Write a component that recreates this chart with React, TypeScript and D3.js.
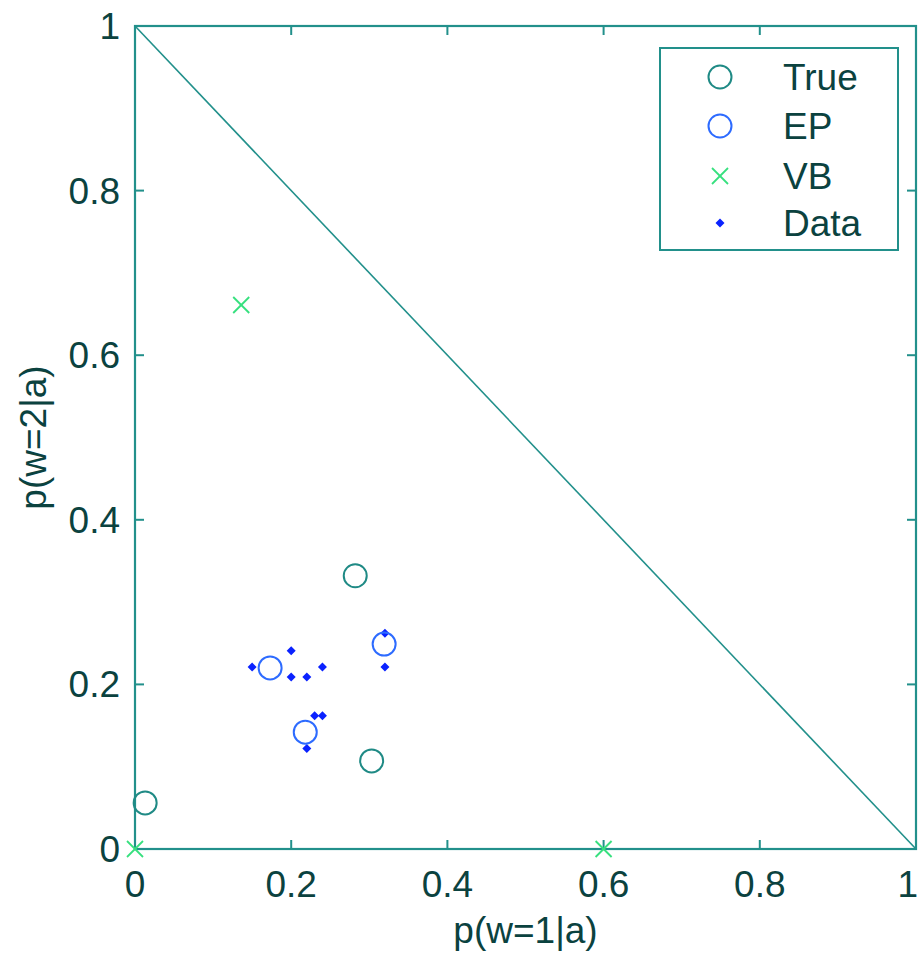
import React from "react";
import * as d3 from "d3";

const trueX = [0.013, 0.282, 0.303];
const trueY = [0.056, 0.332, 0.107];
const epX = [0.173, 0.319, 0.218];
const epY = [0.22, 0.249, 0.142];
const vbX = [0, 0.136, 0.6];
const vbY = [0, 0.661, 0];
const dataX = [0.15, 0.2, 0.2, 0.22, 0.24, 0.32, 0.32, 0.23, 0.24, 0.22];
const dataY = [0.221, 0.241, 0.209, 0.209, 0.221, 0.262, 0.221, 0.162, 0.162, 0.122];
const ticks = [0, 0.2, 0.4, 0.6, 0.8, 1];
const tickLabels = ["0", "0.2", "0.4", "0.6", "0.8", "1"];
const legendLabels = ["True", "EP", "VB", "Data"];

const W = 919, H = 961;
const L = 135, R = 916, T = 26, B = 849;
const AX = "#22908b";
const TXT = "#0b423f";
const TRUEC = "#1f8a85";
const EPC = "#2d6bff";
const VBC = "#36e07e";
const DATAC = "#0a22ff";
const FONT = "Liberation Sans, Arial, sans-serif";

const x = d3.scaleLinear().domain([0, 1]).range([L, R]);
const y = d3.scaleLinear().domain([0, 1]).range([B, T]);

function Cross({ cx, cy, s = 8 }: { cx: number; cy: number; s?: number }) {
  return (
    <g stroke={VBC} strokeWidth={1.8}>
      <line x1={cx - s} y1={cy - s} x2={cx + s} y2={cy + s} />
      <line x1={cx - s} y1={cy + s} x2={cx + s} y2={cy - s} />
    </g>
  );
}

function Diamond({ cx, cy, s = 4.5 }: { cx: number; cy: number; s?: number }) {
  return <path d={`M${cx},${cy - s}L${cx + s},${cy}L${cx},${cy + s}L${cx - s},${cy}Z`} fill={DATAC} />;
}

export default function App() {
  const tick = 9;
  const legendX = 660, legendY = 48, legendW = 238, legendH = 202;
  const rowY = [77, 126, 176, 223];
  return (
    <svg width={W} height={H} style={{ position: "fixed", left: 0, top: 0, background: "#fff" }} fontFamily={FONT}>
      <rect x={0} y={0} width={W} height={H} fill="#fff" />
      <line x1={x(0)} y1={y(1)} x2={x(1)} y2={y(0)} stroke={AX} strokeWidth={1.6} />
      <rect x={L} y={T} width={R - L} height={B - T} fill="none" stroke={AX} strokeWidth={2.2} />
      {ticks.map((t, i) => {
        const last = i === ticks.length - 1;
        return (
          <g key={"t" + i}>
            <line x1={x(t)} y1={B} x2={x(t)} y2={B - tick} stroke={AX} strokeWidth={2} />
            <line x1={x(t)} y1={T} x2={x(t)} y2={T + tick} stroke={AX} strokeWidth={2} />
            <line x1={L} y1={y(t)} x2={L + tick} y2={y(t)} stroke={AX} strokeWidth={2} />
            <line x1={R} y1={y(t)} x2={R - tick} y2={y(t)} stroke={AX} strokeWidth={2} />
            <text x={last ? W - 1 : x(t)} y={897} textAnchor={last ? "end" : "middle"} fontSize={37} fill={TXT}>{tickLabels[i]}</text>
            <text x={120} y={y(t) + 13} textAnchor="end" fontSize={37} fill={TXT}>{tickLabels[i]}</text>
          </g>
        );
      })}
      <text x={(L + R) / 2} y={943} textAnchor="middle" fontSize={37} fill={TXT}>p(w=1|a)</text>
      <text transform={`translate(46,${(T + B) / 2}) rotate(-90)`} textAnchor="middle" fontSize={37} fill={TXT}>p(w=2|a)</text>
      {dataX.map((v, i) => <Diamond key={"d" + i} cx={x(v)} cy={y(dataY[i])} />)}
      {trueX.map((v, i) => (
        <circle key={"c" + i} cx={x(v)} cy={y(trueY[i])} r={11.5} fill="none" stroke={TRUEC} strokeWidth={2} />
      ))}
      {epX.map((v, i) => (
        <circle key={"e" + i} cx={x(v)} cy={y(epY[i])} r={11.5} fill="none" stroke={EPC} strokeWidth={2} />
      ))}
      {vbX.map((v, i) => <Cross key={"v" + i} cx={x(v)} cy={y(vbY[i])} />)}
      <rect x={legendX} y={legendY} width={legendW} height={legendH} fill="#fff" stroke={AX} strokeWidth={2} />
      <circle cx={720} cy={rowY[0]} r={11.5} fill="none" stroke={TRUEC} strokeWidth={2} />
      <circle cx={720} cy={rowY[1]} r={11.5} fill="none" stroke={EPC} strokeWidth={2} />
      <Cross cx={720} cy={rowY[2]} />
      <Diamond cx={720} cy={rowY[3]} />
      {legendLabels.map((lab, i) => (
        <text key={lab} x={783} y={rowY[i] + 13} fontSize={37} fill={TXT}>{lab}</text>
      ))}
    </svg>
  );
}
